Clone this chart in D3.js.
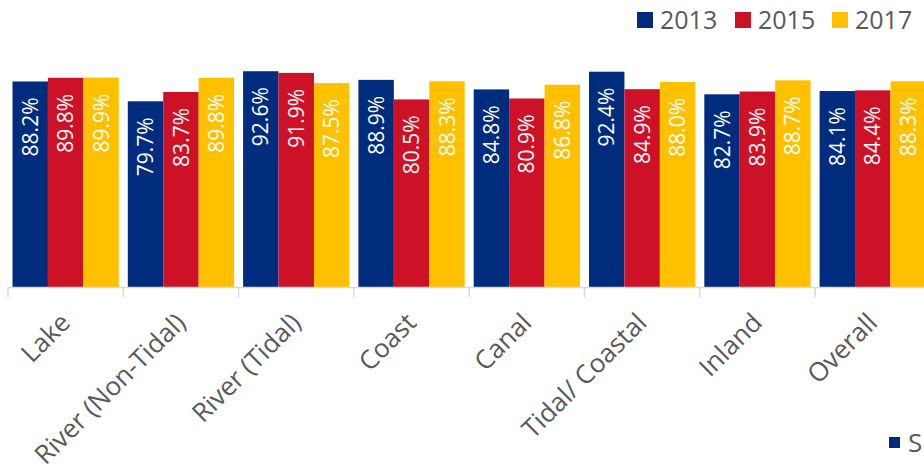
<!DOCTYPE html>
<html>
<head>
<meta charset="utf-8">
<script src="https://cdn.jsdelivr.net/npm/d3@7"></script>
<style>
html,body{margin:0;padding:0;background:#fff;overflow:hidden;}
svg{display:block;}
</style>
</head>
<body>
<svg id="chart" width="924" height="465"></svg>
<script>
const categories = ["Lake","River (Non-Tidal)","River (Tidal)","Coast","Canal","Tidal/ Coastal","Inland","Overall"];
const seriesNames = ["2013","2015","2017"];
const values2013 = [88.2,79.7,92.6,88.9,84.8,92.4,82.7,84.1];
const values2015 = [89.8,83.7,91.9,80.5,80.9,84.9,83.9,84.4];
const values2017 = [89.9,89.8,87.5,88.3,86.8,88.0,88.7,88.3];
const seriesColors = ["#002C7E","#CD1127","#FFC000"];
const secondLegendLabel = "S";

const allValues = [values2013, values2015, values2017];
const rows = categories.map((c,i)=>({cat:c, vals: seriesNames.map((s,j)=>({s, v: allValues[j][i], c: seriesColors[j]}))}));

const svg = d3.select("#chart");
const font = "'Open Sans', 'Liberation Sans', sans-serif";
const textGray = "#595959";

const axisY = 287;
const step = 115.3;
const left = 8;
const pad = 9/step;
const x0 = d3.scaleBand().domain(categories).range([left, left + step*categories.length]).paddingInner(pad).paddingOuter(pad/2);
const x1 = d3.scaleBand().domain(seriesNames).range([0, x0.bandwidth()]);
const y = d3.scaleLinear().domain([0,100]).range([axisY, axisY - 233]);

// bars
const groups = svg.append("g").selectAll("g").data(rows).join("g")
  .attr("transform", d => `translate(${x0(d.cat)},0)`);
groups.selectAll("rect").data(d=>d.vals).join("rect")
  .attr("x", d=>x1(d.s)).attr("width", x1.bandwidth())
  .attr("y", d=>y(d.v)).attr("height", d=>axisY - y(d.v))
  .attr("fill", d=>d.c);

// value labels
groups.selectAll("text").data(d=>d.vals).join("text")
  .attr("transform", d=>`translate(${x1(d.s)+x1.bandwidth()/2},${y(d.v)+16}) rotate(-90)`)
  .attr("text-anchor","end")
  .attr("dy","0.36em")
  .attr("fill","#fff")
  .style("font-family", font)
  .style("font-size","21px")
  .text(d=>d3.format(".1f")(d.v)+"%");

// axis
const axisG = svg.append("g");
axisG.append("line").attr("x1", left).attr("x2", 924).attr("y1", axisY+0.5).attr("y2", axisY+0.5)
  .attr("stroke","#D9D9D9").attr("stroke-width",1.5);
const boundaries = categories.map(c => x0(c) - x0.step()*pad/2).concat([x0(categories[categories.length-1]) + x0.bandwidth() + x0.step()*pad/2]);
axisG.selectAll("line.tick").data(boundaries).join("line").attr("class","tick")
  .attr("x1", d=>d).attr("x2", d=>d).attr("y1", axisY).attr("y2", axisY+10)
  .attr("stroke","#D9D9D9").attr("stroke-width",1.5);

// category labels
axisG.selectAll("text.cat").data(categories).join("text").attr("class","cat")
  .attr("transform", d=>`translate(${x0(d)+x0.bandwidth()/2-7},${axisY+24}) rotate(-45)`)
  .attr("text-anchor","end")
  .attr("dy","0.72em")
  .attr("fill", textGray)
  .style("font-family", font)
  .style("font-size","26px")
  .text(d=>d);

// legend
const legendX = [637, 735, 832];
const legend = svg.append("g").selectAll("g").data(seriesNames).join("g")
  .attr("transform",(d,i)=>`translate(${legendX[i]},12)`);
legend.append("rect").attr("width",16).attr("height",16).attr("fill",(d,i)=>seriesColors[i]);
legend.append("text").attr("x",23).attr("y",17).attr("text-anchor","start")
  .attr("fill",textGray).style("font-family",font).style("font-size","25px").text(d=>d);

// partial second legend (clipped)
const l2 = svg.append("g").attr("transform","translate(889,437)");
l2.append("rect").attr("width",11).attr("height",11).attr("fill",seriesColors[0]);
l2.append("text").attr("x",19).attr("y",15).attr("fill",textGray)
  .style("font-family",font).style("font-size","26px").text(secondLegendLabel);
</script>
</body>
</html>
